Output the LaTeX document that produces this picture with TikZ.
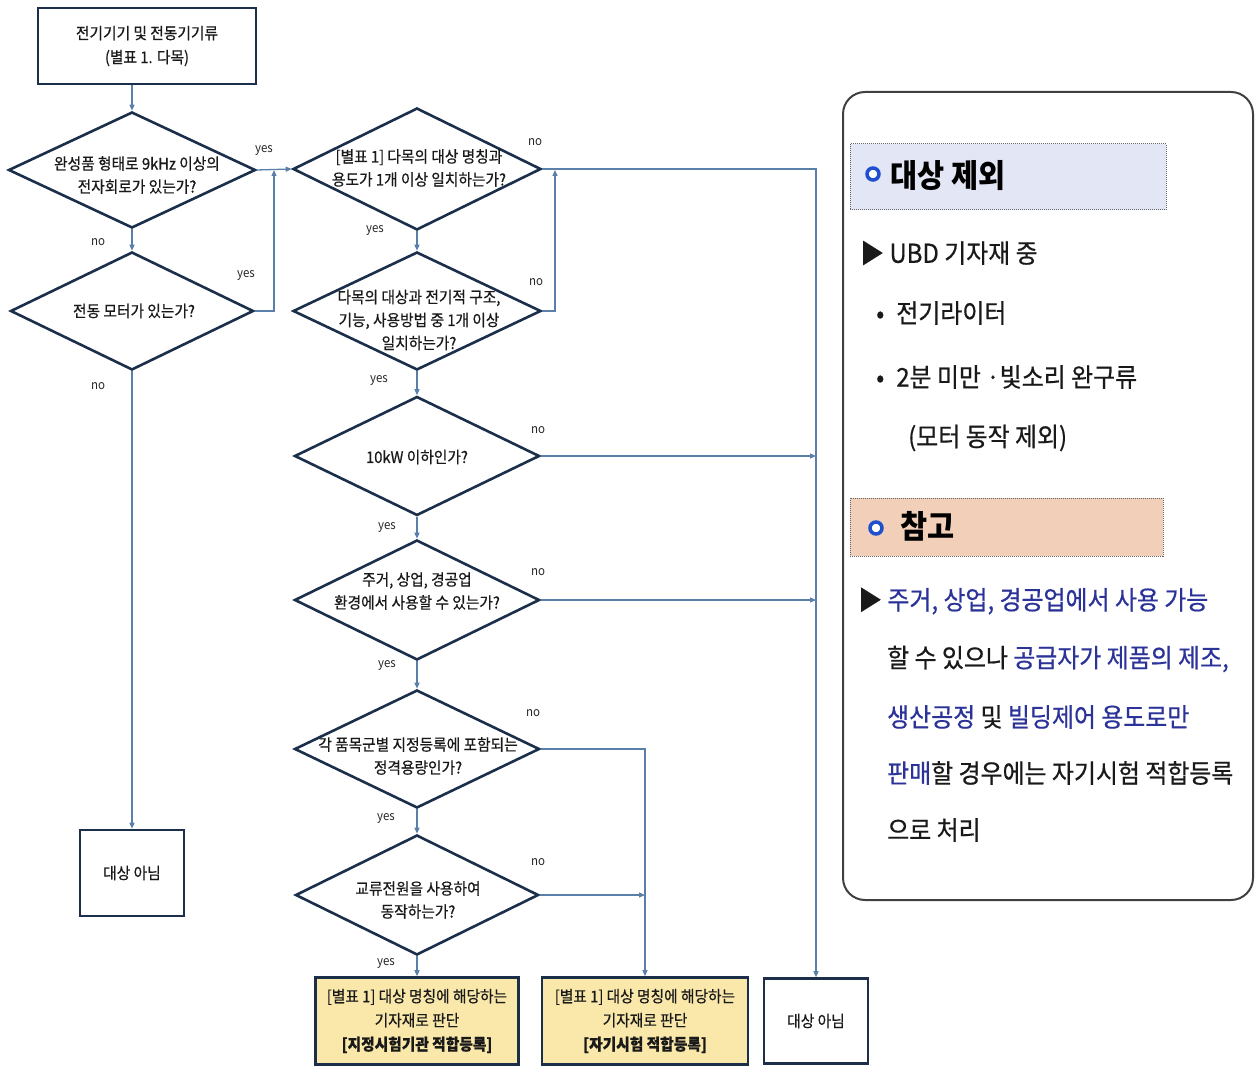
\documentclass[tikz,border=0pt]{standalone}
\usepackage{fontspec}
\setmainfont{Noto Sans CJK KR}[FakeStretch=0.92]
\newfontfamily\krmed{Noto Sans CJK KR}[FakeStretch=0.92,FakeBold=0.6]
\usetikzlibrary{shapes.geometric,arrows.meta}
\definecolor{navy}{HTML}{1B2F4B}
\definecolor{conc}{HTML}{5A80AA}
\definecolor{kblue}{HTML}{2B3399}
\definecolor{hdrA}{HTML}{E3E7F5}
\definecolor{hdrB}{HTML}{F2CFB8}
\definecolor{boxY}{HTML}{F9E8AA}
\definecolor{bullet}{HTML}{1F4FCF}
\begin{document}
\begin{tikzpicture}[x=1pt,y=-1pt,
  ftext/.style={inner sep=0pt, font=\krmed\fontsize{16}{23}\selectfont, align=center, text=black!90},
  dia/.style={diamond, draw=navy, line width=2.6pt, inner sep=0pt, minimum width=246pt, minimum height=118pt},
  fbox/.style={rectangle, draw=navy, line width=2.6pt, inner sep=0pt, align=center,
    font=\krmed\fontsize{16}{24}\selectfont, text=black!90},
  conn/.style={draw=conc, line width=1.3pt},
  arr/.style={conn, -{Triangle[length=6pt,width=5pt]}},
  yn/.style={inner sep=0pt, font=\fontsize{12.5}{14}\selectfont, text=black!85},
  ptext/.style={inner sep=0pt, anchor=west, font=\krmed\fontsize{26}{30}\selectfont, text=black!90},
  htext/.style={inner sep=0pt, anchor=west, font=\fontsize{32}{36}\selectfont\bfseries, text=black},
  hdr/.style={draw=black!60, densely dotted, line width=1pt},
  bul/.style={circle, draw=bullet, line width=3.5pt, fill=white, minimum size=12pt, inner sep=0pt},
]
\useasboundingbox (0,0) rectangle (1256,1067);

% ---------- flowchart nodes ----------
\node[fbox, minimum width=218pt, minimum height=76pt] (t0) at (147,46)
  {전기기기 및 전동기기류\\(별표 1. 다목)};

\node[dia, minimum width=247pt, minimum height=116pt] (d1) at (132,170) {};
\node[ftext] (d1t) at (137,175) {완성품 형태로 9kHz 이상의\\전자회로가 있는가?};

\node[dia, minimum width=243pt, minimum height=118pt] (d2) at (132,311) {};
\node[ftext] (d2t) at (134,311) {전동 모터가 있는가?};

\node[fbox, minimum width=104pt, minimum height=86pt] (b0) at (132,873) {대상 아님};

\node[dia, minimum width=248pt, minimum height=122pt] (d3) at (417,169) {};
\node[ftext] (d3t) at (419,168) {[별표 1] 다목의 대상 명칭과\\용도가 1개 이상 일치하는가?};

\node[dia, minimum width=248pt, minimum height=118pt] (d4) at (417,311) {};
\node[ftext] (d4t) at (419,320) {다목의 대상과 전기적 구조,\\기능, 사용방법 중 1개 이상\\일치하는가?};

\node[dia, minimum width=245pt, minimum height=119pt] (d5) at (417,456) {};
\node[ftext] (d5t) at (417,457) {10kW 이하인가?};

\node[dia, minimum width=245pt, minimum height=120pt] (d6) at (417,600) {};
\node[ftext] (d6t) at (417,591) {주거, 상업, 경공업\\환경에서 사용할 수 있는가?};

\node[dia, minimum width=245pt, minimum height=118pt] (d7) at (417,749) {};
\node[ftext] (d7t) at (418,756) {각 품목군별 지정등록에 포함되는\\정격용량인가?};

\node[dia, minimum width=243pt, minimum height=120pt] (d8) at (417,895) {};
\node[ftext] (d8t) at (418,900) {교류전원을 사용하여\\동작하는가?};

\node[fbox, fill=boxY, minimum width=203pt, minimum height=87pt] (b1) at (417,1021)
  {[별표 1] 대상 명칭에 해당하는\\기자재로 판단\\\textbf{[지정시험기관 적합등록]}};
\node[fbox, fill=boxY, minimum width=206pt, minimum height=87pt] (b2) at (645,1021)
  {[별표 1] 대상 명칭에 해당하는\\기자재로 판단\\\textbf{[자기시험 적합등록]}};
\node[fbox, minimum width=104pt, minimum height=85pt] (b3) at (816,1021) {대상 아님};

% ---------- connectors ----------
\coordinate (j1) at (274,170);
\coordinate (j2) at (555,170);
\draw[arr] (t0.south -| d1.north) -- (d1.north);
\draw[arr] (d1.south) -- (d2.north);
\draw[arr] (d2.south) -- (b0.north);
\draw[arr] (d1.east) -- (d3.west);
\draw[arr] (d2.east) -| (j1);
\draw[arr] (d3.east) -| (b3.north);
\draw[arr] (d3.south) -- (d4.north);
\draw[arr] (d4.east) -| (j2);
\draw[arr] (d4.south) -- (d5.north);
\draw[arr] (d5.east) -- (d5.east -| b3.north);
\draw[arr] (d5.south) -- (d6.north);
\draw[arr] (d6.east) -- (d6.east -| b3.north);
\draw[arr] (d6.south) -- (d7.north);
\draw[arr] (d7.east) -| (b2.north);
\draw[arr] (d7.south) -- (d8.north);
\draw[arr] (d8.east) -- (d8.east -| b2.north);
\draw[arr] (d8.south) -- (b1.north);

% ---------- yes / no labels ----------
\node[yn] (l1) at (264,150) {yes};
\node[yn] (l2) at (98,242) {no};
\node[yn] (l3) at (246,275) {yes};
\node[yn] (l4) at (98,386) {no};
\node[yn] (l5) at (535,142) {no};
\node[yn] (l6) at (375,230) {yes};
\node[yn] (l7) at (536,282) {no};
\node[yn] (l8) at (379,380) {yes};
\node[yn] (l9) at (538,430) {no};
\node[yn] (l10) at (387,527) {yes};
\node[yn] (l11) at (538,572) {no};
\node[yn] (l12) at (387,665) {yes};
\node[yn] (l13) at (533,713) {no};
\node[yn] (l14) at (386,818) {yes};
\node[yn] (l15) at (538,862) {no};
\node[yn] (l16) at (386,963) {yes};

% ---------- right panel ----------
\draw[black!75, line width=2pt, rounded corners=22pt] (843,92) rectangle (1253,900);

\draw[hdr, fill=hdrA] (850,144) rectangle (1166,210);
\node[bul] (bu1) at (873,174) {};
\node[htext] (h1) at (890,176) {대상 제외};

\node[ptext] (p1) at (860,253) {▶ UBD 기자재 중};
\node[ptext] (p2) at (876,313) {•\hspace{12pt}전기라이터};
\node[ptext] (p3) at (876,377) {•\hspace{12pt}2분 미만 ·빛소리 완구류};
\node[ptext] (p4) at (908,438) {(모터 동작 제외)};

\draw[hdr, fill=hdrB] (850,498) rectangle (1163,556);
\node[bul] (bu2) at (876,528) {};
\node[htext] (h2) at (900,526) {참고};

\node[ptext] (q1) at (858,601) {▶ \textcolor{kblue}{주거, 상업, 경공업에서 사용 가능}};
\node[ptext] (q2) at (887,659) {할 수 있으나 \textcolor{kblue}{공급자가 제품의 제조,}};
\node[ptext] (q3) at (887,717) {\textcolor{kblue}{생산공정} 및 \textcolor{kblue}{빌딩제어 용도로만}};
\node[ptext] (q4) at (887,773) {\textcolor{kblue}{판매}할 경우에는 자기시험 적합등록};
\node[ptext] (q5) at (887,830) {으로 처리};
\end{tikzpicture}
\end{document}
